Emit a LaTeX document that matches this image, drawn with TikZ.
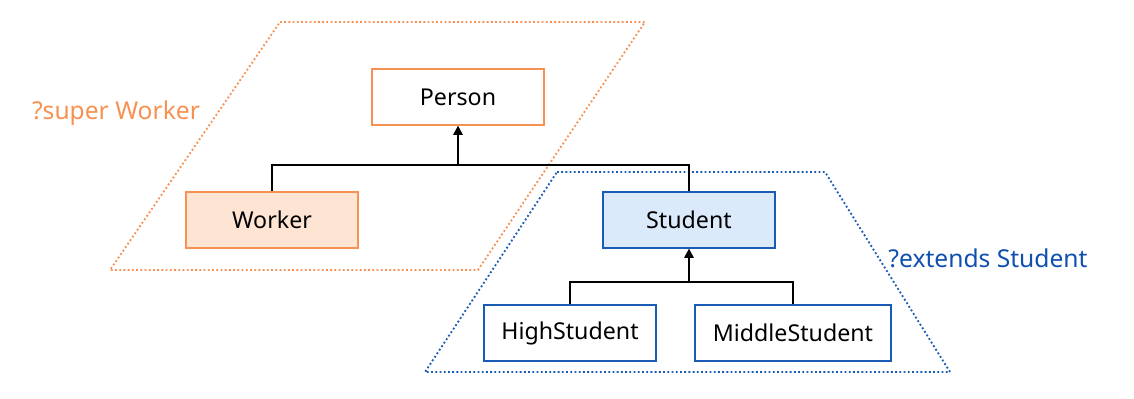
\documentclass[tikz,border=0pt]{standalone}
\usepackage{fontspec}
\setmainfont{Noto Sans}
\usetikzlibrary{arrows.meta}

\definecolor{orangeline}{HTML}{F79152}
\definecolor{orangefill}{HTML}{FDE4D3}
\definecolor{blueline}{HTML}{1A5BB5}
\definecolor{bluefill}{HTML}{DAEAFB}
\definecolor{bluetext}{HTML}{0E4FAF}

\begin{document}
\begin{tikzpicture}[x=0.025cm,y=-0.025cm,
  box/.style={draw,line width=1.4pt,minimum width=4.3cm,minimum height=1.38cm,
    inner sep=0pt,font=\fontsize{16.5}{19}\selectfont},
  obox/.style={box,draw=orangeline},
  bbox/.style={box,draw=blueline},
  region/.style={line width=1.3pt,dash pattern=on 1.3pt off 1.7pt},
  link/.style={line width=1.4pt},
  up/.style={link,-{Triangle[length=2.3mm,width=2.3mm]}}]
  \useasboundingbox (0,0) rectangle (1134,399);

  % wildcard regions
  \draw[region,orangeline] (280,22) -- (645,22) -- (478,270) -- (110,270) -- cycle;
  \draw[region,blueline] (557,172) -- (825,172) -- (950,372) -- (425,372) -- cycle;

  \node[text=orangeline,font=\fontsize{17.5}{20}\selectfont] (superlbl) at (116,113) {?super Worker};
  \node[text=bluetext,font=\fontsize{17.5}{20}\selectfont] (extlbl) at (988,258) {?extends Student};

  % classes
  \node[obox] (person) at (458,97) {Person};
  \node[obox,fill=orangefill] (worker) at (272,220) {Worker};
  \node[bbox,fill=bluefill] (student) at (689,220) {Student};
  \node[bbox] (high) at (570,333) {HighStudent};
  \node[bbox,minimum width=4.875cm] (middle) at (793,333) {MiddleStudent};

  \coordinate (j1) at (person.south |- 0,165);
  \coordinate (j2) at (student.south |- 0,282);

  \draw[link] (worker.north) |- (j1) -| (student.north);
  \draw[up] (j1) -- (person.south);
  \draw[link] (high.north) |- (j2) -| (middle.north);
  \draw[up] (j2) -- (student.south);
\end{tikzpicture}
\end{document}
